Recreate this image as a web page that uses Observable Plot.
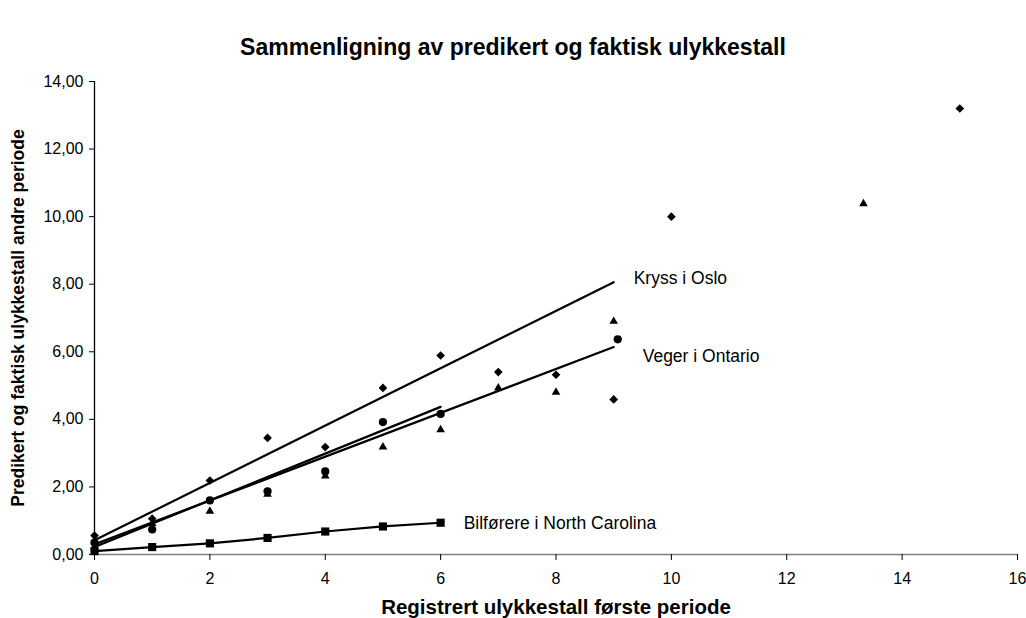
<!DOCTYPE html>
<html>
<head>
<meta charset="utf-8">
<script src="https://cdn.jsdelivr.net/npm/d3@7"></script>
<script src="https://cdn.jsdelivr.net/npm/@observablehq/plot@0.6"></script>
<style>
  html, body { margin: 0; padding: 0; background: #fff; }
  #wrap { position: relative; width: 1026px; height: 618px; }
  #title { position: absolute; left: 0; width: 1026px; top: 33px; text-align: center; line-height: 28px;
    font-family: "Liberation Sans", Arial, sans-serif; font-weight: bold; font-size: 23px; color: #000; }
</style>
</head>
<body>
<div id="wrap"><div id="title"></div></div>
<script>
const title = "Sammenligning av predikert og faktisk ulykkestall";
const xTitle = "Registrert ulykkestall første periode";
const yTitle = "Predikert og faktisk ulykkestall andre periode";
const xTicks = [0, 2, 4, 6, 8, 10, 12, 14, 16];
const yTicks = [0, 2, 4, 6, 8, 10, 12, 14];

// Kryss i Oslo – actual (diamonds)
const osloX = [0, 1, 2, 3, 4, 5, 6, 7, 8, 9, 10, 15];
const osloY = [0.56, 1.06, 2.19, 3.45, 3.18, 4.93, 5.89, 5.40, 5.32, 4.59, 10.0, 13.2];
// Veger i Ontario – actual (triangles)
const triX = [0, 1, 2, 3, 4, 5, 6, 7, 8, 9, 13.33];
const triY = [0.22, 0.92, 1.28, 1.78, 2.32, 3.18, 3.69, 4.93, 4.80, 6.90, 10.38];
// circles
const circX = [0, 1, 2, 3, 4, 5, 6, 9.07];
const circY = [0.35, 0.74, 1.60, 1.87, 2.46, 3.92, 4.16, 6.37];
// Bilførere i North Carolina (squares on line)
const ncX = [0, 1, 2, 3, 4, 5, 6];
const ncY = [0.10, 0.22, 0.33, 0.49, 0.68, 0.83, 0.94];
// predicted lines
const lineOsloX = [0, 9], lineOsloY = [0.42, 8.06];
const lineOntX = [0, 9], lineOntY = [0.30, 6.14];
const lineCircX = [0, 6], lineCircY = [0.22, 4.37];
const seriesLabels = ["Kryss i Oslo", "Veger i Ontario", "Bilførere i North Carolina"];

const pts = (xs, ys) => xs.map((x, i) => ({x, y: ys[i]}));
const osloPts = pts(osloX, osloY);
const triPts = pts(triX, triY);
const circPts = pts(circX, circY);
const ncPts = pts(ncX, ncY);
const lOslo = pts(lineOsloX, lineOsloY);
const lOnt = pts(lineOntX, lineOntY);
const lCirc = pts(lineCircX, lineCircY);
const fmt = d => d3.format(".2f")(d).replace(".", ",");

document.getElementById("title").textContent = title;

const font = "'Liberation Sans', Arial, sans-serif";
const chart = Plot.plot({
  width: 1026,
  height: 618,
  marginLeft: 94,
  marginRight: 9,
  marginTop: 81,
  marginBottom: 64,
  style: {fontFamily: font, fontSize: "16px", color: "#000", background: "transparent"},
  x: {domain: [0, 16]},
  y: {domain: [0, 14]},
  marks: [
    Plot.ruleY([0], {stroke: "#808080", strokeWidth: 1.3}),
    Plot.ruleX([0], {stroke: "#000", strokeWidth: 1.3}),
    Plot.axisX({ticks: xTicks, tickSize: 6, tickPadding: 12, label: null, stroke: "#000", fill: "#000", fontSize: 16}),
    Plot.axisY({ticks: yTicks, tickSize: 5, tickPadding: 6, tickFormat: fmt, label: null, stroke: "#000", fill: "#000", fontSize: 16}),
    Plot.line(lOslo, {x: "x", y: "y", stroke: "#000", strokeWidth: 2.2}),
    Plot.line(lCirc, {x: "x", y: "y", stroke: "#000", strokeWidth: 2.2}),
    Plot.line(lOnt, {x: "x", y: "y", stroke: "#000", strokeWidth: 2.2}),
    Plot.line(ncPts, {x: "x", y: "y", stroke: "#000", strokeWidth: 2.2}),
    Plot.dot(osloPts, {x: "x", y: "y", symbol: "diamond2", r: 3.9, fill: "#000", stroke: "none"}),
    Plot.dot(triPts, {x: "x", y: "y", symbol: "triangle", r: 3.2, fill: "#000", stroke: "none"}),
    Plot.dot(circPts, {x: "x", y: "y", symbol: "circle", r: 4.1, fill: "#000", stroke: "none"}),
    Plot.dot(ncPts, {x: "x", y: "y", symbol: "square", r: 4.6, fill: "#000", stroke: "none"}),
    Plot.text([lOslo[1]], {x: "x", y: "y", text: () => seriesLabels[0], dx: 20, dy: -4, textAnchor: "start", fontSize: 17.5, fill: "#000"}),
    Plot.text([lOnt[1]], {x: "x", y: "y", text: () => seriesLabels[1], dx: 29, dy: 9, textAnchor: "start", fontSize: 17.5, fill: "#000"}),
    Plot.text([ncPts[ncPts.length - 1]], {x: "x", y: "y", text: () => seriesLabels[2], dx: 23, dy: 1, textAnchor: "start", fontSize: 17.5, fill: "#000"}),
    Plot.text([xTitle], {frameAnchor: "bottom", lineAnchor: "middle", dy: 53, fontWeight: "bold", fontSize: 20.5, fill: "#000"}),
    Plot.text([yTitle], {frameAnchor: "left", textAnchor: "middle", lineAnchor: "middle", rotate: -90, dx: -76, fontWeight: "bold", fontSize: 17.5, fill: "#000"})
  ]
});
chart.style.position = "absolute";
chart.style.left = "0";
chart.style.top = "0";
document.getElementById("wrap").appendChild(chart);
</script>
</body>
</html>
